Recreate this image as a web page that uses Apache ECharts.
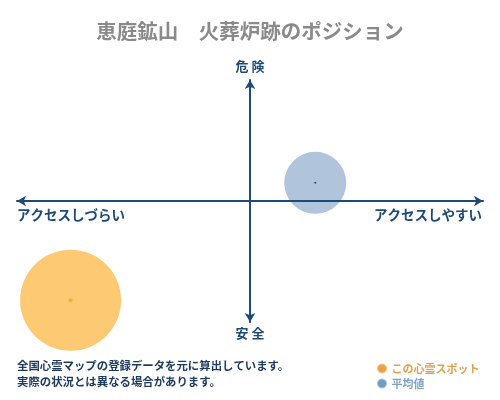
<!DOCTYPE html>
<html><head><meta charset="utf-8">
<script src="https://cdn.jsdelivr.net/npm/echarts@6/dist/echarts.min.js"></script>
<style>html,body{margin:0;padding:0;background:#fff}#c{width:500px;height:400px}</style>
</head><body><div id="c"></div>
<script>
const titleText = '恵庭鉱山　火葬炉跡のポジション';
const categories = ['この心霊スポット', '平均値'];
const xValues = [-7.7, 2.8];
const yValues = [-8.2, 1.5];
const axisLabels = { top: '危 険', bottom: '安 全', left: 'アクセスしづらい', right: 'アクセスしやすい' };
const noteLines = ['全国心霊マップの登録データを元に算出しています。', '実際の状況とは異なる場合があります。'];

const navy = '#1d4a78';
const font = '"Noto Sans CJK JP", sans-serif';
const chart = echarts.init(document.getElementById('c'));
chart.setOption({
  animation: false,
  backgroundColor: '#fff',
  title: { text: titleText, left: 'center', top: 16,
    textStyle: { color: '#8a8a8a', fontSize: 20.5, fontWeight: 'bold', fontFamily: font } },
  grid: { left: 17, right: 17, top: 80, bottom: 78 },
  xAxis: { type: 'value', min: -10, max: 10, z: 5,
    axisLine: { onZero: true, symbol: ['arrow', 'arrow'], symbolSize: [8, 9], lineStyle: { color: navy, width: 2 } },
    axisTick: { show: false }, axisLabel: { show: false }, splitLine: { show: false } },
  yAxis: { type: 'value', min: -10, max: 10, z: 5,
    axisLine: { onZero: true, symbol: ['arrow', 'arrow'], symbolSize: [8, 9], lineStyle: { color: navy, width: 2 } },
    axisTick: { show: false }, axisLabel: { show: false }, splitLine: { show: false } },
  legend: { orient: 'vertical', left: 372, top: 358, itemWidth: 9, itemHeight: 9, itemGap: 4, icon: 'circle',
    textStyle: { fontSize: 11, fontFamily: font, fontWeight: 'bold' },
    data: [
      { name: categories[0], itemStyle: { color: '#f0a040', borderColor: '#f8c890', borderWidth: 1 }, textStyle: { color: '#e0a050' } },
      { name: categories[1], itemStyle: { color: '#6f9cc4', borderColor: '#a8c4de', borderWidth: 1 }, textStyle: { color: '#7ea3c6' } }
    ] },
  graphic: [
    { type: 'text', left: 'center', top: 60, style: { text: axisLabels.top, fill: navy, font: 'bold 13px ' + font } },
    { type: 'text', left: 'center', top: 327, style: { text: axisLabels.bottom, fill: navy, font: 'bold 13px ' + font } },
    { type: 'text', left: 17, top: 208, style: { text: axisLabels.left, fill: navy, font: 'bold 13.5px ' + font } },
    { type: 'text', right: 18, top: 208, style: { text: axisLabels.right, fill: navy, font: 'bold 13.5px ' + font } },
    { type: 'text', left: 17, top: 360, style: { text: noteLines[0], fill: '#1f3a5f', font: 'bold 11.4px ' + font } },
    { type: 'text', left: 17, top: 376, style: { text: noteLines[1], fill: '#1f3a5f', font: 'bold 11.4px ' + font } }
  ],
  series: [
    { name: categories[0], type: 'scatter', z: 1, symbolSize: 101, itemStyle: { color: '#fdc972', opacity: 1 },
      data: [[xValues[0], yValues[0]]] },
    { name: categories[1], type: 'scatter', z: 1, symbolSize: 62, itemStyle: { color: '#b0c4dc', opacity: 1 },
      data: [[xValues[1], yValues[1]]] },
    { name: 'dot0', type: 'scatter', z: 2, symbolSize: 4, itemStyle: { color: '#f5a623' }, data: [[xValues[0], yValues[0]]] },
    { name: 'dot1', type: 'scatter', z: 2, symbolSize: 2, itemStyle: { color: '#1a2a3a' }, data: [[xValues[1], yValues[1]]] }
  ]
});
</script></body></html>
